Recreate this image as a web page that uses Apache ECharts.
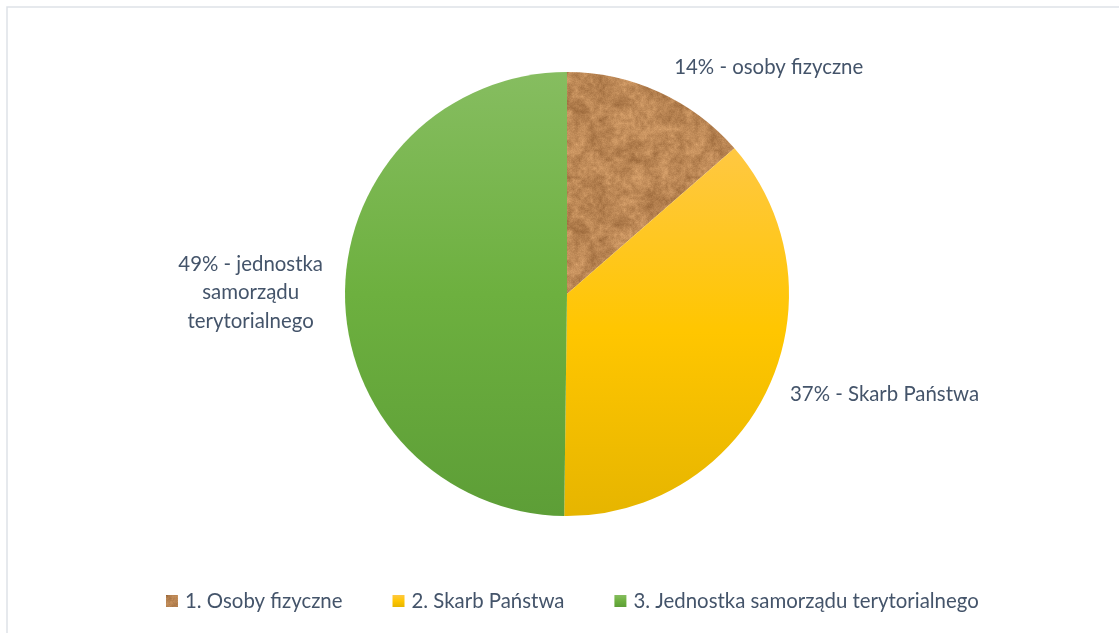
<!DOCTYPE html>
<html>
<head>
<meta charset="utf-8">
<script src="https://cdn.jsdelivr.net/npm/echarts@6/dist/echarts.min.js"></script>
<style>
  html, body { margin: 0; padding: 0; background: #fff; }
  #chart { width: 1119px; height: 633px; }
</style>
</head>
<body>
<div id="chart"></div>
<script>
const categories = ['1. Osoby fizyczne', '2. Skarb Państwa', '3. Jednostka samorządu terytorialnego']
const values = [13.6, 36.6, 49.8]
const labelTexts = ['14% - osoby fizyczne', '37% - Skarb Państwa', '49% - jednostka\nsamorządu\nterytorialnego']

const textColor = '#44546A'
const font = 'Lato'
const fontSize = 20.4

// brown paper-bag like texture for the first slice
function makeTexture() {
  const size = 120
  const cv = document.createElement('canvas')
  cv.width = size
  cv.height = size
  const ctx = cv.getContext('2d')
  const hash = (x, y) => {
    const s = Math.sin(x * 127.1 + y * 311.7) * 43758.5453
    return s - Math.floor(s)
  }
  const noise = (x, y, cell) => {
    const n = size / cell
    const gx = x / cell, gy = y / cell
    const x0 = Math.floor(gx), y0 = Math.floor(gy)
    const fx = gx - x0, fy = gy - y0
    const a = hash(x0 % n, y0 % n), b = hash((x0 + 1) % n, y0 % n)
    const c = hash(x0 % n, (y0 + 1) % n), d = hash((x0 + 1) % n, (y0 + 1) % n)
    return (a * (1 - fx) + b * fx) * (1 - fy) + (c * (1 - fx) + d * fx) * fy
  }
  const img = ctx.createImageData(size, size)
  for (let y = 0; y < size; y++) {
    for (let x = 0; x < size; x++) {
      const v = 0.45 * noise(x, y, 8) + 0.35 * noise(x, y, 3) + 0.2 * hash(x, y)
      const i = (y * size + x) * 4
      img.data[i] = 150 + v * 75
      img.data[i + 1] = 100 + v * 70
      img.data[i + 2] = 55 + v * 60
      img.data[i + 3] = 255
    }
  }
  ctx.putImageData(img, 0, 0)
  return cv
}

const texture = makeTexture()

const fills = [
  { image: texture, repeat: 'repeat' },
  new echarts.graphic.LinearGradient(0, 0, 0, 1, [
    { offset: 0, color: '#FFC842' },
    { offset: 0.5, color: '#FFC600' },
    { offset: 1, color: '#E6B500' }
  ]),
  new echarts.graphic.LinearGradient(0, 0, 0, 1, [
    { offset: 0, color: '#86BD60' },
    { offset: 0.5, color: '#6DB03F' },
    { offset: 1, color: '#5D9E37' }
  ])
]

// per-slice label line lengths, only used to place the labels
const lineLen = [27, 16, 0]
const lineLen2 = [4, 7, 22]

var myChart = echarts.init(document.getElementById('chart'))

const option = {
  animation: false,
  textStyle: { fontFamily: font },
  graphic: [
    {
      type: 'rect',
      shape: { x: 7, y: 7, width: 1130, height: 640 },
      style: { fill: 'none', stroke: '#DEE2E7', lineWidth: 1.5 },
      silent: true
    }
  ],
  legend: {
    bottom: 17,
    left: 161,
    icon: 'rect',
    itemWidth: 12,
    itemHeight: 12,
    itemGap: 50,
    textStyle: { color: textColor, fontSize: fontSize, fontFamily: font, padding: [0, 0, 0, 2] },
    data: categories
  },
  series: [
    {
      type: 'pie',
      center: [567, 294],
      radius: 222,
      startAngle: 90,
      clockwise: true,
      avoidLabelOverlap: false,
      label: {
        show: true,
        position: 'outside',
        color: textColor,
        fontSize: fontSize,
        fontFamily: font,
        distanceToLabelLine: 0
      },
      labelLine: { show: false },
      itemStyle: { borderWidth: 0 },
      emphasis: { disabled: true },
      data: categories.map((name, i) => ({
        name: name,
        value: values[i],
        itemStyle: { color: fills[i] },
        labelLine: { show: false, length: lineLen[i], length2: lineLen2[i] },
        label: {
          formatter: labelTexts[i].split('\n').map(t => '{c|' + t + '}').join('\n'),
          rich: { c: { align: 'center', color: textColor, fontSize: fontSize, fontFamily: font, lineHeight: 28.5 } }
        }
      }))
    }
  ]
}

myChart.setOption(option)
</script>
</body>
</html>
